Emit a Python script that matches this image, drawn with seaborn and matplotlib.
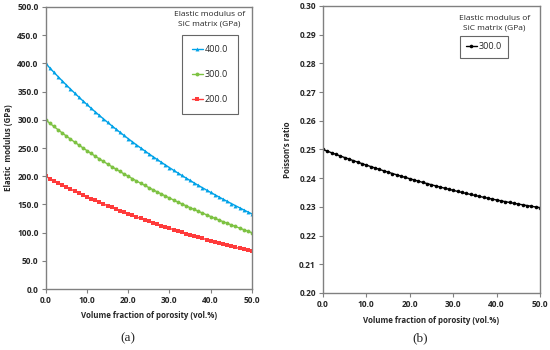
import pandas as pd
import numpy as np
import matplotlib
matplotlib.use('Agg')
import matplotlib.pyplot as plt
import seaborn as sns

porosity = [float(i) for i in range(0, 51)]

E_400 = [400.0, 392.1, 384.3, 376.7, 369.2, 361.9, 354.7, 347.7, 340.7, 333.9,
         327.3, 320.7, 314.3, 308.0, 301.8, 295.7, 289.7, 283.8, 278.0, 272.3,
         266.7, 261.2, 255.7, 250.4, 245.2, 240.0, 234.9, 229.9, 225.0, 220.2,
         215.4, 210.7, 206.1, 201.5, 197.0, 192.6, 188.2, 183.9, 179.7, 175.5,
         171.4, 167.4, 163.4, 159.4, 155.6, 151.7, 147.9, 144.2, 140.5, 136.9,
         133.3]
E_300 = [300.0, 294.1, 288.2, 282.5, 276.9, 271.4, 266.0, 260.7, 255.6, 250.5,
         245.5, 240.5, 235.7, 231.0, 226.3, 221.7, 217.2, 212.8, 208.5, 204.2,
         200.0, 195.9, 191.8, 187.8, 183.9, 180.0, 176.2, 172.4, 168.8, 165.1,
         161.5, 158.0, 154.5, 151.1, 147.8, 144.4, 141.2, 138.0, 134.8, 131.7,
         128.6, 125.5, 122.5, 119.6, 116.7, 113.8, 111.0, 108.2, 105.4, 102.7,
         100.0]
E_200 = [200.0, 196.0, 192.2, 188.3, 184.6, 181.0, 177.4, 173.8, 170.4, 167.0,
         163.6, 160.4, 157.1, 154.0, 150.9, 147.8, 144.8, 141.9, 139.0, 136.1,
         133.3, 130.6, 127.9, 125.2, 122.6, 120.0, 117.5, 115.0, 112.5, 110.1,
         107.7, 105.3, 103.0, 100.8, 98.5, 96.3, 94.1, 92.0, 89.9, 87.8,
         85.7, 83.7, 81.7, 79.7, 77.8, 75.9, 74.0, 72.1, 70.3, 68.5,
         66.7]
nu_300 = [0.25000, 0.24942, 0.24886, 0.24829, 0.24774, 0.24719, 0.24665, 0.24612,
          0.24559, 0.24507, 0.24456, 0.24405, 0.24355, 0.24306, 0.24257, 0.24210,
          0.24162, 0.24116, 0.24070, 0.24025, 0.23981, 0.23937, 0.23894, 0.23852,
          0.23810, 0.23769, 0.23729, 0.23690, 0.23651, 0.23613, 0.23575, 0.23539,
          0.23503, 0.23467, 0.23433, 0.23399, 0.23365, 0.23333, 0.23301, 0.23270,
          0.23239, 0.23209, 0.23180, 0.23152, 0.23124, 0.23097, 0.23071, 0.23045,
          0.23020, 0.22996, 0.22973]

matrix_labels = ['400.0', '300.0', '200.0']
colors = ['#00A2E8', '#7DC242', '#FF3B3B']
markers = ['^', 'o', 's']

sns.set_style('white')
plt.rcParams['font.family'] = ['Open Sans', 'DejaVu Sans']

df_a = pd.DataFrame({
    'porosity': porosity * 3,
    'E': E_400 + E_300 + E_200,
    'matrix': sum([[m] * len(porosity) for m in matrix_labels], []),
})
df_b = pd.DataFrame({'porosity': porosity, 'nu': nu_300, 'matrix': '300.0'})

fig = plt.figure(figsize=(5.5, 3.5), dpi=100)
ax1 = fig.add_axes([0.083, 0.174, 0.375, 0.806])
ax2 = fig.add_axes([0.587, 0.163, 0.395, 0.82])

spine_col = '#808080'
tick_kw = dict(fontsize=6, fontweight='bold')
label_kw = dict(fontsize=5.7, fontweight='bold')

# (a) elastic modulus
sns.lineplot(data=df_a, x='porosity', y='E', hue='matrix', style='matrix',
             palette=colors, markers=markers, dashes=False, markersize=2.8,
             markeredgewidth=0, linewidth=1.0, ax=ax1)
ax1.set_xlim(0, 50)
ax1.set_ylim(0, 500)
ax1.set_xticks(np.arange(0, 51, 10))
ax1.set_yticks(np.arange(0, 501, 50))
ax1.set_xticklabels([f'{v:.1f}' for v in np.arange(0, 51, 10)], **tick_kw)
ax1.set_yticklabels([f'{v:.1f}' for v in np.arange(0, 501, 50)], **tick_kw)
ax1.set_xlabel('Volume fraction of porosity (vol.%)', labelpad=4, **label_kw)
ax1.set_ylabel('Elastic  modulus (GPa)', labelpad=3, **label_kw)
leg = ax1.legend(loc='upper left', bbox_to_anchor=(0.66, 0.9), frameon=True,
                 fancybox=False, fontsize=6.5, labelspacing=1.75, handlelength=1.2,
                 handletextpad=0.2, borderpad=1.1, borderaxespad=0)
leg.get_frame().set_edgecolor('#404040')
leg.get_frame().set_linewidth(0.8)
ax1.text(0.795, 0.955, 'Elastic modulus of\nSiC matrix (GPa)', transform=ax1.transAxes,
         ha='center', va='center', fontsize=6, linespacing=1.5)

# (b) Poisson's ratio
sns.lineplot(data=df_b, x='porosity', y='nu', hue='matrix', palette=['black'],
             marker='o', markersize=2.6, markeredgewidth=0, linewidth=1.0, ax=ax2)
ax2.set_xlim(0, 50)
ax2.set_ylim(0.2, 0.3)
ax2.set_xticks(np.arange(0, 51, 10))
ax2.set_yticks(np.arange(0.20, 0.301, 0.01))
ax2.set_xticklabels([f'{v:.1f}' for v in np.arange(0, 51, 10)], **tick_kw)
ax2.set_yticklabels([f'{v:.2f}' for v in np.arange(0.20, 0.301, 0.01)], **tick_kw)
ax2.set_xlabel('Volume fraction of porosity (vol.%)', labelpad=5, **label_kw)
ax2.set_ylabel('Poisson\u2019s ratio', labelpad=5, **label_kw)
leg2 = ax2.legend(loc='upper left', bbox_to_anchor=(0.63, 0.895), frameon=True,
                  fancybox=False, fontsize=6.5, handlelength=1.2, handletextpad=0.2,
                  borderpad=0.7, borderaxespad=0)
leg2.get_frame().set_edgecolor('#404040')
leg2.get_frame().set_linewidth(0.8)
ax2.text(0.79, 0.94, 'Elastic modulus of\nSiC matrix (GPa)', transform=ax2.transAxes,
         ha='center', va='center', fontsize=6, linespacing=1.5)

for ax in (ax1, ax2):
    for s in ax.spines.values():
        s.set_color(spine_col)
        s.set_linewidth(1.0)
    ax.tick_params(axis='both', which='both', direction='out', length=3,
                   width=0.8, color=spine_col, pad=2, bottom=True, left=True)

fig.text(0.233, 0.025, '(a)', fontsize=9.5, family='Liberation Serif', ha='center')
fig.text(0.764, 0.025, '(b)', fontsize=9.5, family='Liberation Serif', ha='center')

plt.savefig('out.png', dpi=100)
